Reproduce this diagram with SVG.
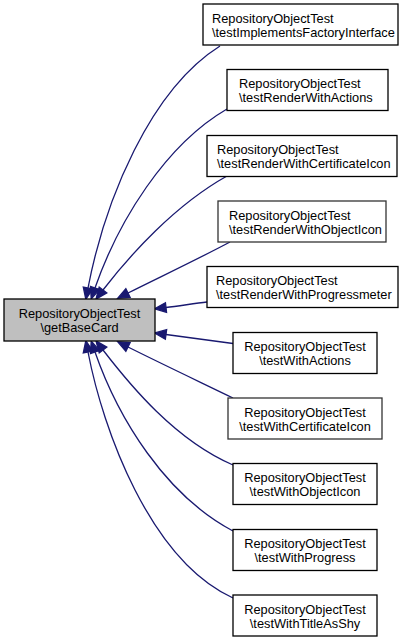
<svg xmlns="http://www.w3.org/2000/svg" width="419" height="640" viewBox="0 0 419 640">
<style>
.n rect{fill:#ffffff;stroke:#000000;stroke-width:1.3}
.n.g rect{stroke:#333333}
.m rect{fill:#bfbfbf;stroke:#000000;stroke-width:1.3}
text{font-family:"Liberation Sans",Arial,Helvetica,sans-serif;font-size:12.8px;fill:#000000;text-anchor:middle}
text.l{text-anchor:start}
.e path{fill:none;stroke:#191970;stroke-width:1.3}
</style>
<defs>
<marker id="ah" markerUnits="userSpaceOnUse" markerWidth="14" markerHeight="12" refX="0" refY="0" viewBox="-1 -6 14 12" orient="auto-start-reverse" overflow="visible">
<polygon points="0,-4.8 11.5,0 0,4.8" fill="#191970" stroke="#191970" stroke-width="1.3"/>
</marker>
</defs>
<g id="edges" class="e">
<path marker-start="url(#ah)" d="M88,288 C105,200 150,90 220,46"/>
<path marker-start="url(#ah)" d="M95,288 C118,222 165,145 227,109"/>
<path marker-start="url(#ah)" d="M103,290 C130,255 175,205 227,176"/>
<path marker-start="url(#ah)" d="M128,293 C160,277 200,258 230,242"/>
<path marker-start="url(#ah)" d="M166,307.5 C179,306 194,303.5 207,302"/>
<path marker-start="url(#ah)" d="M166,334.5 C188,337.5 211,340.5 233,343.5"/>
<path marker-start="url(#ah)" d="M128,347 C160,363 200,382 233,398"/>
<path marker-start="url(#ah)" d="M103,350 C130,385 175,440 233,465"/>
<path marker-start="url(#ah)" d="M95,352 C118,418 165,495 233,531"/>
<path marker-start="url(#ah)" d="M88,352 C103,430 150,560 233,598"/>
</g>
<g id="main" class="m">
<rect x="4" y="299" width="151" height="42"/>
<text x="79.5" y="317.5">RepositoryObjectTest</text>
<text x="79.5" y="331.5">\getBaseCard</text>
</g>
<g id="n1" class="n">
<rect x="203" y="4" width="195" height="41"/>
<text class="l" x="212" y="22.5">RepositoryObjectTest</text>
<text class="l" x="212" y="36.5">\testImplementsFactoryInterface</text>
</g>
<g id="n2" class="n">
<rect x="227" y="69.5" width="161" height="41"/>
<text class="l" x="239" y="88">RepositoryObjectTest</text>
<text class="l" x="239" y="102">\testRenderWithActions</text>
</g>
<g id="n3" class="n">
<rect x="207" y="135.5" width="190" height="41"/>
<text class="l" x="217" y="154">RepositoryObjectTest</text>
<text class="l" x="217" y="168">\testRenderWithCertificateIcon</text>
</g>
<g id="n4" class="n g">
<rect x="218" y="201" width="168" height="41"/>
<text class="l" x="229" y="219.5">RepositoryObjectTest</text>
<text class="l" x="229" y="233.5">\testRenderWithObjectIcon</text>
</g>
<g id="n5" class="n">
<rect x="207" y="266.5" width="191" height="41"/>
<text class="l" x="216" y="285">RepositoryObjectTest</text>
<text class="l" x="216" y="299">\testRenderWithProgressmeter</text>
</g>
<g id="n6" class="n">
<rect x="233" y="332.5" width="144" height="41"/>
<text x="305" y="351">RepositoryObjectTest</text>
<text x="305" y="365">\testWithActions</text>
</g>
<g id="n7" class="n g">
<rect x="228" y="398" width="154" height="41"/>
<text x="305" y="416.5">RepositoryObjectTest</text>
<text x="305" y="430.5">\testWithCertificateIcon</text>
</g>
<g id="n8" class="n">
<rect x="233" y="463.5" width="144" height="41"/>
<text x="305" y="482">RepositoryObjectTest</text>
<text x="305" y="496">\testWithObjectIcon</text>
</g>
<g id="n9" class="n">
<rect x="233" y="529.5" width="144" height="41"/>
<text x="305" y="548">RepositoryObjectTest</text>
<text x="305" y="562">\testWithProgress</text>
</g>
<g id="n10" class="n">
<rect x="233" y="595" width="144" height="41"/>
<text x="305" y="613.5">RepositoryObjectTest</text>
<text x="305" y="627.5">\testWithTitleAsShy</text>
</g>
</svg>
